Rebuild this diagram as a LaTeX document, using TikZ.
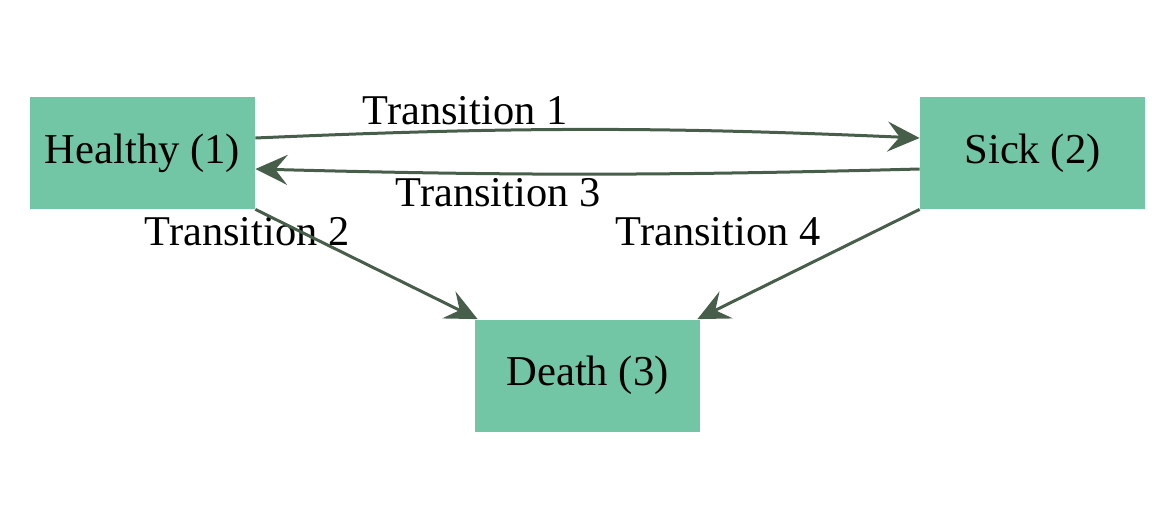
\documentclass[tikz,border=0pt]{standalone}
\usepackage{fontspec}
\setmainfont{Liberation Serif}
\usetikzlibrary{arrows.meta}
\definecolor{statefill}{HTML}{72C6A5}
\definecolor{edgecol}{HTML}{475E4A}
\begin{document}
\begin{tikzpicture}[x=0.5pt,y=-0.5pt,
    state/.style={shape=rectangle,fill=statefill,minimum width=112.5pt,minimum height=56pt,inner sep=0pt,font=\fontsize{21.3}{25}\selectfont},
    lbl/.style={inner sep=0pt,font=\fontsize{21.2}{25}\selectfont},
    trans/.style={draw=edgecol,line width=1.5pt,-{Stealth[length=16pt,width=15pt,inset=6pt]}}]
  \useasboundingbox (0,0) rectangle (1172,514);

  \node[state] (H) at (142.5,153) {Healthy (1)};
  \node[state] (S) at (1032.5,153) {Sick (2)};
  \node[state] (D) at (587.5,375.5) {Death (3)};

  \node[lbl] (t1) at (465,111) {Transition 1};
  \node[lbl] (t3) at (498,193) {Transition 3};
  \node[lbl] (t2) at (247,232) {Transition 2};
  \node[lbl] (t4) at (718,232) {Transition 4};

  \draw[trans] ([yshift=7.5pt]H.east) to[bend left=2.5] ([yshift=7.5pt]S.west);
  \draw[trans] ([yshift=-8pt]S.west) to[bend left=1.5] ([yshift=-8pt]H.east);
  \draw[trans] (H.south east) -- ([xshift=1.5pt]D.north west);
  \draw[trans] (S.south west) -- ([xshift=-1.5pt]D.north east);
\end{tikzpicture}
\end{document}
